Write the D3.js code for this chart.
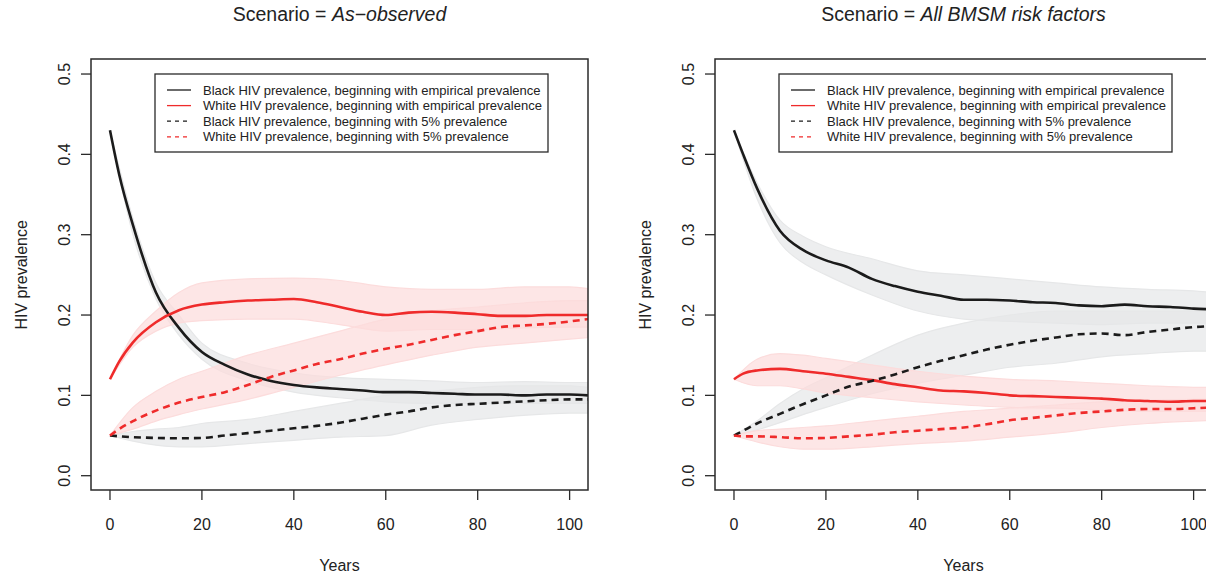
<!DOCTYPE html>
<html>
<head>
<meta charset="utf-8">
<script src="https://cdn.jsdelivr.net/npm/d3@7"></script>
<style>
  body { margin: 0; background: #fff; }
  text { font-family: "Liberation Sans", Arial, Helvetica, sans-serif; fill: #222; }
</style>
</head>
<body>
<div id="chart"></div>
<script>
// years used for the averaged (bold) curves
var years = [0, 2, 5, 10, 15, 20, 25, 30, 35, 40, 45, 50, 55, 60, 65, 70, 75, 80, 85, 90, 95, 100, 104];
// years used for the spread of the individual runs
var bandYears = [0, 5, 10, 15, 20, 30, 40, 50, 60, 70, 80, 90, 100, 104];

var xTicks = [0, 20, 40, 60, 80, 100];
var yTicks = [0.0, 0.1, 0.2, 0.3, 0.4, 0.5];

var legendLabels = [
  "Black HIV prevalence, beginning with empirical prevalence",
  "White HIV prevalence, beginning with empirical prevalence",
  "Black HIV prevalence, beginning with 5% prevalence",
  "White HIV prevalence, beginning with 5% prevalence"
];

// Scenario = As-observed
var obsBlackEmp = [0.43, 0.375, 0.312, 0.228, 0.184, 0.154, 0.138, 0.126, 0.118, 0.113, 0.110, 0.108, 0.106, 0.104, 0.104, 0.103, 0.102, 0.101, 0.101, 0.100, 0.101, 0.101, 0.100];
var obsWhiteEmp = [0.12, 0.142, 0.166, 0.191, 0.206, 0.213, 0.216, 0.218, 0.219, 0.220, 0.216, 0.210, 0.204, 0.200, 0.203, 0.204, 0.203, 0.201, 0.199, 0.199, 0.200, 0.200, 0.200];
var obsBlack5 = [0.05, 0.049, 0.048, 0.047, 0.0466, 0.047, 0.050, 0.053, 0.056, 0.059, 0.062, 0.066, 0.071, 0.076, 0.080, 0.085, 0.088, 0.0895, 0.091, 0.0925, 0.094, 0.095, 0.095];
var obsWhite5 = [0.05, 0.058, 0.068, 0.081, 0.091, 0.098, 0.104, 0.113, 0.123, 0.131, 0.139, 0.145, 0.152, 0.158, 0.163, 0.169, 0.175, 0.180, 0.185, 0.187, 0.189, 0.192, 0.195];

var obsBlackEmpLo = [0.43, 0.30, 0.22, 0.175, 0.145, 0.118, 0.104, 0.097, 0.092, 0.090, 0.090, 0.090, 0.090, 0.090];
var obsBlackEmpHi = [0.43, 0.32, 0.24, 0.20, 0.165, 0.14, 0.128, 0.122, 0.120, 0.118, 0.116, 0.117, 0.116, 0.116];
var obsBlack5Lo = [0.05, 0.043, 0.038, 0.036, 0.036, 0.040, 0.044, 0.048, 0.050, 0.063, 0.070, 0.075, 0.078, 0.078];
var obsBlack5Hi = [0.05, 0.055, 0.058, 0.060, 0.065, 0.070, 0.080, 0.090, 0.100, 0.105, 0.110, 0.112, 0.112, 0.110];
var obsWhiteEmpLo = [0.12, 0.16, 0.18, 0.19, 0.193, 0.195, 0.195, 0.188, 0.180, 0.182, 0.182, 0.184, 0.185, 0.185];
var obsWhiteEmpHi = [0.12, 0.175, 0.205, 0.228, 0.240, 0.245, 0.246, 0.243, 0.235, 0.232, 0.232, 0.235, 0.235, 0.233];
var obsWhite5Lo = [0.05, 0.058, 0.068, 0.076, 0.083, 0.095, 0.110, 0.125, 0.138, 0.150, 0.160, 0.165, 0.170, 0.172];
var obsWhite5Hi = [0.05, 0.085, 0.105, 0.120, 0.130, 0.150, 0.165, 0.180, 0.195, 0.205, 0.210, 0.215, 0.218, 0.218];

// Scenario = All BMSM risk factors
var allBlackEmp = [0.43, 0.40, 0.358, 0.305, 0.281, 0.268, 0.259, 0.245, 0.236, 0.229, 0.224, 0.219, 0.219, 0.218, 0.216, 0.215, 0.212, 0.211, 0.213, 0.211, 0.210, 0.208, 0.207];
var allWhiteEmp = [0.12, 0.127, 0.131, 0.133, 0.130, 0.127, 0.123, 0.119, 0.114, 0.110, 0.106, 0.105, 0.103, 0.100, 0.099, 0.098, 0.097, 0.096, 0.094, 0.093, 0.092, 0.093, 0.093];
var allBlack5 = [0.05, 0.056, 0.065, 0.077, 0.089, 0.100, 0.111, 0.118, 0.126, 0.135, 0.143, 0.150, 0.157, 0.163, 0.168, 0.172, 0.176, 0.177, 0.175, 0.179, 0.182, 0.185, 0.186];
var allWhite5 = [0.05, 0.049, 0.049, 0.048, 0.0466, 0.047, 0.049, 0.051, 0.054, 0.056, 0.058, 0.060, 0.064, 0.069, 0.072, 0.075, 0.078, 0.080, 0.082, 0.083, 0.083, 0.084, 0.085];

var allBlackEmpLo = [0.43, 0.345, 0.29, 0.265, 0.25, 0.225, 0.205, 0.195, 0.192, 0.190, 0.188, 0.190, 0.190, 0.190];
var allBlackEmpHi = [0.43, 0.365, 0.318, 0.298, 0.285, 0.27, 0.255, 0.25, 0.245, 0.240, 0.235, 0.232, 0.230, 0.228];
var allBlack5Lo = [0.05, 0.057, 0.066, 0.076, 0.085, 0.102, 0.115, 0.125, 0.135, 0.140, 0.148, 0.152, 0.155, 0.155];
var allBlack5Hi = [0.05, 0.068, 0.090, 0.108, 0.122, 0.150, 0.175, 0.190, 0.200, 0.205, 0.205, 0.205, 0.205, 0.205];
var allWhiteEmpLo = [0.12, 0.112, 0.112, 0.108, 0.103, 0.097, 0.092, 0.088, 0.085, 0.084, 0.082, 0.080, 0.080, 0.080];
var allWhiteEmpHi = [0.12, 0.145, 0.152, 0.150, 0.146, 0.138, 0.130, 0.124, 0.120, 0.118, 0.115, 0.112, 0.110, 0.110];
var allWhite5Lo = [0.05, 0.042, 0.036, 0.033, 0.033, 0.036, 0.040, 0.043, 0.048, 0.053, 0.060, 0.065, 0.068, 0.069];
var allWhite5Hi = [0.05, 0.056, 0.058, 0.060, 0.062, 0.068, 0.074, 0.080, 0.084, 0.088, 0.092, 0.094, 0.095, 0.095];

var svgWidth = 1206;
var svgHeight = 577;

var black = "#1b1b1b";
var red = "#ef2b2b";
var grey = "#e6e7e8";
var pink = "#fcdcdc";

var svg = d3.select("#chart")
  .append("svg")
  .attr("width", svgWidth)
  .attr("height", svgHeight);

// plot box is the same size in both panels
var box = { left: 91, top: 59, width: 497, height: 431 };

var xScale = d3.scaleLinear().domain([-4.13, 104]).range([0, box.width]);
var yScale = d3.scaleLinear().domain([-0.0178, 0.5187]).range([box.height, 0]);

function zip(xs, ys) {
  return xs.map(function(x, i) { return { x: x, y: ys[i] }; });
}

function drawPanel(offsetX, scenario, s, id) {
  var panel = svg.append("g")
    .attr("transform", `translate(${offsetX + box.left}, ${box.top})`);

  panel.append("clipPath")
    .attr("id", "clip" + id)
    .append("rect")
    .attr("width", box.width)
    .attr("height", box.height);

  var plot = panel.append("g").attr("clip-path", `url(#clip${id})`);

  var area = d3.area()
    .x(d => xScale(d.x))
    .y0(d => yScale(d.lo))
    .y1(d => yScale(d.hi))
    .curve(d3.curveMonotoneX);

  var line = d3.line()
    .x(d => xScale(d.x))
    .y(d => yScale(d.y))
    .curve(d3.curveMonotoneX);

  // spread of the runs
  s.bands.forEach(function(b) {
    var pts = bandYears.map((x, i) => ({ x: x, lo: b.lo[i], hi: b.hi[i] }));
    plot.append("path")
      .attr("d", area(pts))
      .attr("fill", b.color)
      .attr("fill-opacity", 0.7)
      .attr("stroke", b.color)
      .attr("stroke-width", 1.2);
  });

  // averaged curves
  s.lines.forEach(function(l) {
    plot.append("path")
      .attr("d", line(zip(years, l.values)))
      .attr("fill", "none")
      .attr("stroke", l.color)
      .attr("stroke-width", 2.6)
      .attr("stroke-dasharray", l.dashed ? "7,5" : null);
  });

  // frame
  panel.append("rect")
    .attr("width", box.width)
    .attr("height", box.height)
    .attr("fill", "none")
    .attr("stroke", "#2a2a2a")
    .attr("stroke-width", 1.5);

  // x axis
  xTicks.forEach(function(t) {
    panel.append("line")
      .attr("x1", xScale(t)).attr("x2", xScale(t))
      .attr("y1", box.height).attr("y2", box.height + 10)
      .attr("stroke", "#2a2a2a").attr("stroke-width", 1.3);
    panel.append("text")
      .attr("x", xScale(t))
      .attr("y", box.height + 40)
      .attr("text-anchor", "middle")
      .attr("font-size", "16px")
      .text(t);
  });

  // y axis, labels turned like R's default
  yTicks.forEach(function(t) {
    panel.append("line")
      .attr("x1", -10).attr("x2", 0)
      .attr("y1", yScale(t)).attr("y2", yScale(t))
      .attr("stroke", "#2a2a2a").attr("stroke-width", 1.3);
    panel.append("text")
      .attr("transform", `translate(-21, ${yScale(t)}) rotate(-90)`)
      .attr("text-anchor", "middle")
      .attr("font-size", "16px")
      .text(t.toFixed(1));
  });

  panel.append("text")
    .attr("x", box.width / 2)
    .attr("y", 512)
    .attr("text-anchor", "middle")
    .attr("font-size", "16px")
    .text("Years");

  panel.append("text")
    .attr("transform", `translate(-64, ${(yScale(0) + yScale(0.5)) / 2}) rotate(-90)`)
    .attr("text-anchor", "middle")
    .attr("font-size", "16px")
    .text("HIV prevalence");

  // title
  var title = panel.append("text")
    .attr("x", box.width / 2)
    .attr("y", -38)
    .attr("text-anchor", "middle")
    .attr("font-size", "19.5px");
  title.append("tspan").text("Scenario = ");
  title.append("tspan").attr("font-style", "italic").text(scenario);

  // legend
  var legend = panel.append("g")
    .attr("transform", "translate(64, 15)");
  legend.append("rect")
    .attr("width", 393)
    .attr("height", 78)
    .attr("fill", "#fff")
    .attr("stroke", "#2a2a2a")
    .attr("stroke-width", 1.3);
  var legendStyles = [
    { color: black, dashed: false },
    { color: red, dashed: false },
    { color: black, dashed: true },
    { color: red, dashed: true }
  ];
  legendLabels.forEach(function(label, i) {
    var ly = 16 + i * 15.6;
    legend.append("line")
      .attr("x1", 12).attr("x2", 36)
      .attr("y1", ly).attr("y2", ly)
      .attr("stroke", legendStyles[i].color)
      .attr("stroke-width", 1.3)
      .attr("stroke-dasharray", legendStyles[i].dashed ? "4,4" : null);
    legend.append("text")
      .attr("x", 48)
      .attr("y", ly + 4.5)
      .attr("font-size", "13px")
      .attr("fill", "#333")
      .text(label);
  });
}

drawPanel(0, "As\u2212observed", {
  bands: [
    { lo: obsBlackEmpLo, hi: obsBlackEmpHi, color: grey },
    { lo: obsBlack5Lo, hi: obsBlack5Hi, color: grey },
    { lo: obsWhiteEmpLo, hi: obsWhiteEmpHi, color: pink },
    { lo: obsWhite5Lo, hi: obsWhite5Hi, color: pink }
  ],
  lines: [
    { values: obsBlackEmp, color: black, dashed: false },
    { values: obsWhiteEmp, color: red, dashed: false },
    { values: obsBlack5, color: black, dashed: true },
    { values: obsWhite5, color: red, dashed: true }
  ]
}, "L");

drawPanel(624, "All BMSM risk factors", {
  bands: [
    { lo: allBlackEmpLo, hi: allBlackEmpHi, color: grey },
    { lo: allBlack5Lo, hi: allBlack5Hi, color: grey },
    { lo: allWhiteEmpLo, hi: allWhiteEmpHi, color: pink },
    { lo: allWhite5Lo, hi: allWhite5Hi, color: pink }
  ],
  lines: [
    { values: allBlackEmp, color: black, dashed: false },
    { values: allWhiteEmp, color: red, dashed: false },
    { values: allBlack5, color: black, dashed: true },
    { values: allWhite5, color: red, dashed: true }
  ]
}, "R");
</script>
</body>
</html>
